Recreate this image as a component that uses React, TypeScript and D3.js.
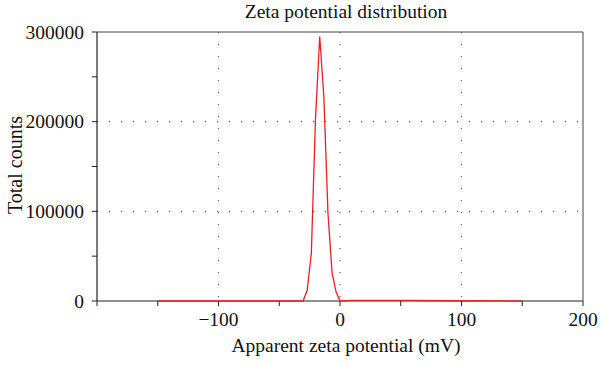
import React from 'react';
import * as d3 from 'd3';

// Zeta potential distribution (mV vs total counts)
const potentials = [-150, -100, -60, -30.4, -27, -23.6, -20.2, -16.7, -13.3, -9.9, -6.5, -3.2, 0, 10, 40, 60, 100, 150];
const counts = [0, 0, 0, 0, 12000, 53000, 202000, 295000, 228000, 98000, 31000, 10000, 0, 600, 800, 600, 300, 0];

const xTicks = [-100, 0, 100, 200];
const xMinorTicks = [-200, -150, -100, -50, 0, 50, 100, 150, 200];
const yTicks = [0, 100000, 200000, 300000];
const yMinorTicks = [0, 50000, 100000, 150000, 200000, 250000, 300000];

const W = 600;
const H = 365;
const margin = { top: 32, right: 17, bottom: 64, left: 97 };

export default function App() {
  const width = W - margin.left - margin.right;
  const height = H - margin.top - margin.bottom;

  const x = d3.scaleLinear().domain([-200, 200]).range([0, width]);
  const y = d3.scaleLinear().domain([0, 300000]).range([height, 0]);

  const points = potentials.map((p, i) => [p, counts[i]] as [number, number]);
  const line = d3
    .line<[number, number]>()
    .x(d => x(d[0]))
    .y(d => y(d[1]));

  const font = '"Liberation Serif", "DejaVu Serif", serif';
  const fs = 19.5;

  return (
    <svg width={W} height={H} style={{ position: 'absolute', left: 0, top: 0 }} fontFamily={font}>
      <text x={346} y={18} textAnchor="middle" fontSize={19.5} fill="#111">
        Zeta potential distribution
      </text>
      <g transform={`translate(${margin.left},${margin.top})`}>
        {/* grid */}
        {xTicks.filter(t => t > -200 && t < 200).map(t => (
          <line key={'gx' + t} x1={x(t)} x2={x(t)} y1={0} y2={height}
            stroke="#666" strokeWidth={1.2} strokeDasharray="1.2,10.8" />
        ))}
        {yTicks.filter(t => t > 0 && t < 300000).map(t => (
          <line key={'gy' + t} x1={0} x2={width} y1={y(t)} y2={y(t)}
            stroke="#666" strokeWidth={1.2} strokeDasharray="1.2,10.8" />
        ))}
        {/* frame */}
        <line x1={0} x2={width} y1={0} y2={0} stroke="#444" strokeWidth={1} />
        <line x1={width} x2={width} y1={0} y2={height} stroke="#444" strokeWidth={1} />
        <line x1={0} x2={0} y1={0} y2={height} stroke="#222" strokeWidth={1.2} />
        <line x1={0} x2={width} y1={height} y2={height} stroke="#222" strokeWidth={1.2} />
        {/* y ticks */}
        {yMinorTicks.map(t => (
          <line key={'yt' + t} x1={-5} x2={0} y1={y(t)} y2={y(t)} stroke="#222" />
        ))}
        {yTicks.map(t => (
          <text key={'yl' + t} x={-13} y={y(t)} dy="0.35em" textAnchor="end" fontSize={fs} fill="#111">
            {t}
          </text>
        ))}
        {/* x ticks */}
        {xMinorTicks.map(t => (
          <line key={'xt' + t} x1={x(t)} x2={x(t)} y1={height} y2={height + 5} stroke="#222" />
        ))}
        {xTicks.map(t => (
          <text key={'xl' + t} x={x(t)} y={height + 25} textAnchor="middle" fontSize={fs} fill="#111">
            {t < 0 ? '\u2212' + Math.abs(t) : t}
          </text>
        ))}
        {/* data */}
        <path d={line(points) || ''} fill="none" stroke="#e8202a" strokeWidth={1.3} />
      </g>
      <text x={346} y={352} textAnchor="middle" fontSize={fs} fill="#111">
        Apparent zeta potential (mV)
      </text>
      <text transform={`translate(22,165) rotate(-90)`} textAnchor="middle" fontSize={20} fill="#111">
        Total counts
      </text>
    </svg>
  );
}
